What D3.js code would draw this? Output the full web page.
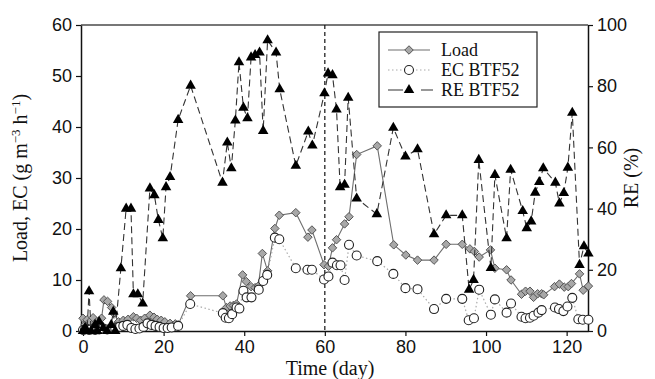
<!DOCTYPE html>
<html>
<head>
<meta charset="utf-8">
<script src="https://cdn.jsdelivr.net/npm/d3@7"></script>
<style>
  body { margin: 0; background: #fff; }
  svg { display: block; }
</style>
</head>
<body>
<div id="chart"></div>
<script>
// Load (g m-3 h-1), left axis
const loadDay = [0, 0.5, 1, 1.7, 2.5, 3.4, 4.6, 5.2, 6.1, 7.1, 7.6, 8.8, 10, 11.2, 12.5, 13.3, 14.3, 15.3, 16.6, 17.6, 18.4, 19.4, 20.3, 21.6, 22.9, 23.6,
  26.7, 34.7, 35.6, 36.5, 37.3, 38.1, 39.6, 40.5, 41.7, 42.7, 43.5, 44.5, 45.8, 47.6, 48.7, 52.8, 55.8, 56.8, 59.8, 60.9, 61.9, 62.9, 64.9, 66, 67.9,
  73, 77.1, 80.1, 83, 87.1, 90.1, 94.1, 96, 97.1, 98.3, 101.1, 102.2, 105.1, 106.2, 108.8, 109.8, 110.9, 111.8, 112.8, 113.8, 114.3,
  117, 118.2, 119.4, 120.4, 121.2, 123.2, 124.1, 125.4];
const loadVal = [2.5, 1.2, 2.2, 1.8, 2.6, 1.8, 2.5, 6.1, 5.8, 4.6, 3.5, 1.8, 2.1, 2.3, 2.8, 2.5, 2.1, 2.5, 3.1, 2.7, 2.3, 2.1, 1.8, 1.5, 1.4, 1.2,
  6.9, 6.9, 4.6, 4.9, 5.0, 5.3, 11, 9.7, 8.7, 8.5, 8.8, 15.2, 11.8, 20.1, 22.7, 23.2, 18.4, 19.8, 13.0, 12.7, 16.3, 17.9, 21, 22.4, 34.6,
  36.3, 16.9, 14.9, 13.9, 13.9, 17, 17, 16.1, 15.6, 14.5, 15.9, 12.3, 12, 10, 7.2, 7.8, 7.8, 6.6, 7.3, 7.3, 7.1,
  8.7, 9.2, 8.6, 8.7, 9.3, 11.2, 8, 8.8];

// EC BTF52 (g m-3 h-1), left axis
const ecDay = [0, 0.5, 1, 1.5, 2, 3, 4, 5, 6, 7, 8, 9, 10, 11, 12, 13, 14, 15, 16, 17, 18, 19, 20, 21, 22, 23.6,
  26.6, 34.7, 35.4, 36.2, 37, 38.1, 38.8, 39.8, 40.6, 41.8, 43.6, 44.7, 45.7, 47.6, 48.7, 52.8, 55.7, 56.8, 59.8, 60.9, 61.9, 63, 63.9, 64.9, 66, 67.9,
  73, 77, 80, 83, 87.1, 90.1, 94.1, 95.7, 97, 98.3, 101.2, 102.2, 105.1, 106.2, 108.8, 109.8, 110.9, 111.8, 113, 113.8,
  117.1, 118.1, 119.2, 120.2, 121.4, 122.9, 124, 125.4];
const ecVal = [0.2, 0.3, 0.4, 0.2, 0.3, 0.2, 0.3, 0.5, 0.3, 0.4, 0.5, 0.8, 1.0, 1.2, 0.6, 0.4, 0.5, 0.8, 1.5, 1.2, 1.0, 0.8, 0.6, 0.6, 0.7, 1.0,
  5.3, 3.5, 2.6, 2.5, 3.3, 4.6, 4.4, 7.9, 6.6, 6.6, 8.1, 9.8, 11, 18.3, 18, 12.3, 12, 12, 10.1, 10.7, 13.4, 12.9, 12.9, 10, 16.9, 14.8,
  13.7, 11.2, 8.4, 8.2, 4.3, 6.3, 6.3, 2.1, 2.5, 8.1, 3.2, 6.2, 3.6, 5.4, 2.8, 2.5, 2.6, 3, 3.6, 4.1,
  4.6, 4.3, 3.9, 4.8, 6.5, 2.3, 2.2, 2.2];

// RE BTF52 (%), right axis
const reDay = [0, 0.5, 1, 1.5, 2, 3, 3.5, 4, 5, 6, 7, 7.5, 8, 9.4, 10.7, 11.9, 12.5, 13.6, 14.8, 16.6, 17.7, 18.7, 19.8, 20.6, 21.6, 23.6,
  26.7, 34.6, 35.8, 36.8, 37.8, 38.7, 39.8, 40.8, 41.7, 42.7, 43.8, 44.7, 45.8, 47.9, 48.8, 52.8, 55.9, 56.9, 59.9, 60.8, 61.9, 62.9, 63.8, 64.9, 65.8, 67.9,
  72.9, 77, 80, 83, 87.1, 90.1, 94.1, 95.8, 96.9, 98.2, 101.2, 102.2, 105.1, 106.1, 109.1, 110.1, 111.2, 112.2, 113.2, 114.2,
  117.2, 118.2, 119.3, 120.3, 121.4, 123.2, 124.3, 125.4];
const reVal = [0, 1, 0, 13, 0, 2, 0, 3, 1, 0, 2, 6.3, 0, 20.5, 40, 40, 12, 12, 9, 46.6, 44.4, 36.3, 30.3, 47, 50.3, 69,
  80.2, 48.5, 61.6, 53.2, 68.8, 87.8, 73, 69.5, 89.4, 90.2, 91, 65.4, 95, 91, 79, 54, 65.2, 60.6, 77.7, 84.2, 83.6, 72.4, 47, 47.8, 76.2, 43.3,
  38.2, 66.4, 57, 59.4, 31.6, 37.8, 37.8, 13.5, 16.7, 55.9, 20.6, 51, 30.3, 52.7, 39.2, 33.6, 35.8, 45.2, 48.7, 53.2,
  48.5, 41.7, 45.1, 53.4, 71.3, 21.6, 27.7, 25.3];

const xTicks = [0, 20, 40, 60, 80, 100, 120];
const leftTicks = [0, 10, 20, 30, 40, 50, 60];
const rightTicks = [0, 20, 40, 60, 80, 100];
const markerDay = 60;

const width = 655, height = 379;
const svg = d3.select("#chart").append("svg")
  .attr("width", width)
  .attr("height", height);

const x = d3.scaleLinear().domain([-0.5, 125.3]).range([81, 588]);
const yL = d3.scaleLinear().domain([0, 60]).range([331, 25]);
const yR = d3.scaleLinear().domain([0, 100]).range([331, 25]);

const tickFont = "'Liberation Sans', Arial, sans-serif";
const serif = "'Liberation Serif', 'Times New Roman', serif";

// frame top line
svg.append("line")
  .attr("x1", 81).attr("x2", 588).attr("y1", 25).attr("y2", 25)
  .attr("stroke", "#777").attr("stroke-width", 2);

// vertical dashed line at day 60
svg.append("line")
  .attr("x1", x(markerDay)).attr("x2", x(markerDay))
  .attr("y1", 25).attr("y2", 331)
  .attr("stroke", "#111").attr("stroke-width", 1.2)
  .attr("stroke-dasharray", "4,3");

// axes
function styleAxis(g) {
  g.selectAll(".domain").attr("stroke", "#111").attr("stroke-width", 1.5);
  g.selectAll(".tick line").attr("stroke", "#111").attr("stroke-width", 1.2);
  g.selectAll(".tick text").attr("font-family", tickFont).attr("font-size", 18).attr("fill", "#111");
}

svg.append("g")
  .attr("transform", "translate(0,331)")
  .call(d3.axisBottom(x).tickValues(xTicks).tickSize(5).tickSizeOuter(0).tickPadding(4))
  .call(styleAxis);

svg.append("g")
  .attr("transform", "translate(81,0)")
  .call(d3.axisLeft(yL).tickValues(leftTicks).tickSize(5).tickSizeOuter(0).tickPadding(4))
  .call(styleAxis);

svg.append("g")
  .attr("transform", "translate(588,0)")
  .call(d3.axisRight(yR).tickValues(rightTicks).tickSize(5).tickSizeOuter(0).tickPadding(4))
  .call(styleAxis);

// series
const diamond = d3.symbol().type(d3.symbolDiamond2).size(46);
const triangle = d3.symbol().type(d3.symbolTriangle).size(48);

function zip(days, vals) { return days.map((d, i) => [d, vals[i]]); }
const loadPts = zip(loadDay, loadVal);
const ecPts = zip(ecDay, ecVal);
const rePts = zip(reDay, reVal);

// Load
svg.append("path")
  .datum(loadPts)
  .attr("fill", "none")
  .attr("stroke", "#6e6e6e")
  .attr("stroke-width", 1.1)
  .attr("d", d3.line().x(d => x(d[0])).y(d => yL(d[1])));
svg.append("g").selectAll("path")
  .data(loadPts)
  .enter()
  .append("path")
  .attr("d", diamond)
  .attr("transform", d => `translate(${x(d[0])},${yL(d[1])})`)
  .attr("fill", "#a8a8a8")
  .attr("stroke", "#555")
  .attr("stroke-width", 1);

// EC
svg.append("path")
  .datum(ecPts)
  .attr("fill", "none")
  .attr("stroke", "#aaa")
  .attr("stroke-width", 1.2)
  .attr("stroke-dasharray", "1.5,2.5")
  .attr("d", d3.line().x(d => x(d[0])).y(d => yL(d[1])));
svg.append("g").selectAll("circle")
  .data(ecPts)
  .enter()
  .append("circle")
  .attr("cx", d => x(d[0]))
  .attr("cy", d => yL(d[1]))
  .attr("r", 4.5)
  .attr("fill", "#fff")
  .attr("stroke", "#222")
  .attr("stroke-width", 1.1);

// RE
svg.append("path")
  .datum(rePts)
  .attr("fill", "none")
  .attr("stroke", "#333")
  .attr("stroke-width", 1.1)
  .attr("stroke-dasharray", "7,4")
  .attr("d", d3.line().x(d => x(d[0])).y(d => yR(d[1])));
svg.append("g").selectAll("path")
  .data(rePts)
  .enter()
  .append("path")
  .attr("d", triangle)
  .attr("transform", d => `translate(${x(d[0])},${yR(d[1])})`)
  .attr("fill", "#000");

// legend
const lg = svg.append("g");
lg.append("rect")
  .attr("x", 379).attr("y", 32).attr("width", 158).attr("height", 75)
  .attr("fill", "#fff").attr("stroke", "#222").attr("stroke-width", 1.2);
const legendRows = [
  { label: "Load", y: 50 },
  { label: "EC BTF52", y: 70 },
  { label: "RE BTF52", y: 90 }
];
// Load row
lg.append("line").attr("x1", 388).attr("x2", 430).attr("y1", 50).attr("y2", 50)
  .attr("stroke", "#6e6e6e").attr("stroke-width", 1.1);
lg.append("path").attr("d", diamond).attr("transform", "translate(409,50)")
  .attr("fill", "#a8a8a8").attr("stroke", "#555");
// EC row
lg.append("line").attr("x1", 388).attr("x2", 430).attr("y1", 70).attr("y2", 70)
  .attr("stroke", "#aaa").attr("stroke-width", 1.2).attr("stroke-dasharray", "1.5,2.5");
lg.append("circle").attr("cx", 409).attr("cy", 70).attr("r", 4.5)
  .attr("fill", "#fff").attr("stroke", "#222").attr("stroke-width", 1.1);
// RE row
lg.append("line").attr("x1", 388).attr("x2", 433).attr("y1", 90).attr("y2", 90)
  .attr("stroke", "#333").attr("stroke-width", 1.1).attr("stroke-dasharray", "15,4,4,10");
lg.append("path").attr("d", triangle).attr("transform", "translate(409,90)").attr("fill", "#000");
lg.selectAll("text.lbl")
  .data(legendRows)
  .enter()
  .append("text")
  .attr("class", "lbl")
  .attr("x", 441)
  .attr("y", d => d.y)
  .attr("dy", "0.35em")
  .attr("font-family", serif)
  .attr("font-size", 18)
  .attr("fill", "#111")
  .text(d => d.label);

// axis titles
svg.append("text")
  .attr("x", 330).attr("y", 375)
  .attr("text-anchor", "middle")
  .attr("font-family", serif).attr("font-size", 20).attr("fill", "#111")
  .text("Time (day)");

const yt = svg.append("text")
  .attr("transform", "translate(27,178) rotate(-90)")
  .attr("text-anchor", "middle")
  .attr("font-family", serif).attr("font-size", 20).attr("fill", "#111");
yt.append("tspan").text("Load, EC (g m");
yt.append("tspan").attr("dy", -7).attr("font-size", 13).text("−3");
yt.append("tspan").attr("dy", 7).text(" h");
yt.append("tspan").attr("dy", -7).attr("font-size", 13).text("−1");
yt.append("tspan").attr("dy", 7).text(")");

svg.append("text")
  .attr("transform", "translate(638,178) rotate(-90)")
  .attr("text-anchor", "middle")
  .attr("font-family", serif).attr("font-size", 20).attr("fill", "#111")
  .text("RE (%)");
</script>
</body>
</html>
